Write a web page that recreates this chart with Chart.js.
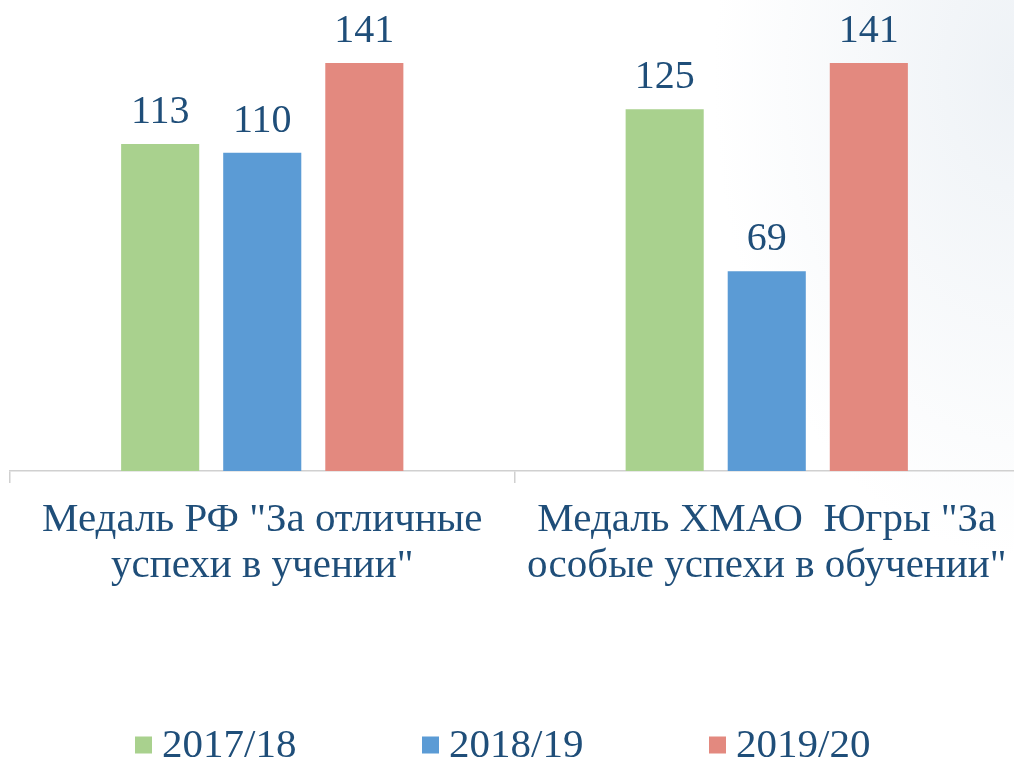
<!DOCTYPE html>
<html>
<head>
<meta charset="utf-8">
<script src="https://cdn.jsdelivr.net/npm/chart.js@4"></script>
<style>
  html, body { margin: 0; padding: 0; }
  body {
    width: 1014px; height: 762px; overflow: hidden;
    background: radial-gradient(ellipse 300px 480px at 100% 10%, #eef2f6 0%, rgba(255,255,255,0) 100%), #ffffff;
  }
  #wrap { width: 1014px; height: 762px; overflow: hidden; }
</style>
</head>
<body>
<div id="wrap"><canvas id="medalChart" width="1024" height="762"></canvas></div>
<script>
const categories = [
  ['Медаль РФ "За отличные', 'успехи в учении"'],
  ['Медаль ХМАО  Югры "За', 'особые успехи в обучении"']
];
const seriesNames = ['2017/18', '2018/19', '2019/20'];
const values2017 = [113, 125];
const values2018 = [110, 69];
const values2019 = [141, 141];
const colors = ['#a9d18e', '#5b9bd5', '#e3897f'];

const textColor = '#1f4e79';
const fontFamily = '"Liberation Serif", "Times New Roman", serif';

// value labels above bars
const valueLabels = {
  id: 'valueLabels',
  afterDatasetsDraw(chart) {
    const ctx = chart.ctx;
    ctx.save();
    ctx.font = '40px ' + fontFamily;
    ctx.fillStyle = textColor;
    ctx.textAlign = 'center';
    ctx.textBaseline = 'alphabetic';
    chart.data.datasets.forEach((ds, i) => {
      chart.getDatasetMeta(i).data.forEach((bar, j) => {
        ctx.fillText(ds.data[j], bar.x, bar.y - 21);
      });
    });
    ctx.restore();
  }
};

// legend drawn by hand so the box/text gap matches
const bottomLegend = {
  id: 'bottomLegend',
  afterDraw(chart) {
    const ctx = chart.ctx;
    const pitch = 287, box = 17, y = 745;
    const start = 135;
    ctx.save();
    ctx.font = '41px ' + fontFamily;
    ctx.textBaseline = 'middle';
    chart.data.datasets.forEach((ds, i) => {
      const x = start + i * pitch;
      ctx.fillStyle = ds.backgroundColor;
      ctx.fillRect(x, y - box / 2, box, box);
      ctx.fillStyle = textColor;
      ctx.fillText(ds.label, x + box + 10, y + 1);
    });
    ctx.restore();
  }
};

const ctx = document.getElementById('medalChart').getContext('2d');
new Chart(ctx, {
  type: 'bar',
  data: {
    labels: categories,
    datasets: [
      { label: seriesNames[0], data: values2017, backgroundColor: colors[0] },
      { label: seriesNames[1], data: values2018, backgroundColor: colors[1] },
      { label: seriesNames[2], data: values2019, backgroundColor: colors[2] }
    ]
  },
  options: {
    responsive: false,
    animation: false,
    categoryPercentage: 0.607,
    barPercentage: 0.765,
    layout: { padding: { left: 10, right: 5, top: 8, bottom: 0 } },
    scales: {
      y: { display: false, min: 0, max: 160 },
      x: {
        afterFit: (scale) => { scale.height = 291; },
        grid: { offset: true, drawOnChartArea: false, drawTicks: true, tickLength: 12, color: '#d0d0d0', lineWidth: 1.5 },
        border: { color: '#d0d0d0', width: 1.5 },
        ticks: {
          color: textColor,
          padding: 14,
          maxRotation: 0,
          autoSkip: false,
          font: { family: fontFamily, size: 41, lineHeight: 1.13 }
        }
      }
    },
    plugins: {
      legend: { display: false },
      tooltip: { enabled: false }
    }
  },
  plugins: [valueLabels, bottomLegend]
});
</script>
</body>
</html>
